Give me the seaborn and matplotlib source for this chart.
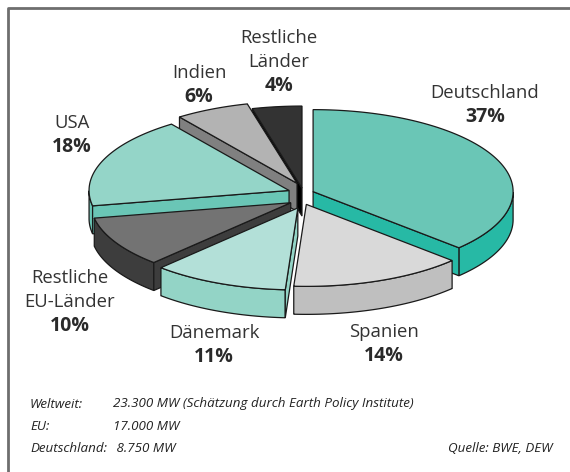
import numpy as np
import matplotlib
matplotlib.use("Agg")
import matplotlib.pyplot as plt
import seaborn as sns

# Data (share of installed wind power, %)
countries = ["Deutschland", "Spanien", "Dänemark", "Restliche\nEU-Länder", "USA", "Indien", "Restliche\nLänder"]
shares = [37, 14, 11, 10, 18, 6, 4]
top_colors = ["#6ac6b6", "#d9d9d9", "#b3e0d8", "#737373", "#94d5c8", "#b3b3b3", "#333333"]
side_colors = ["#27b9a5", "#bfbfbf", "#93d4c6", "#3d3d3d", "#6ac6b6", "#808080", "#000000"]
explode = [11, 9, 13, 14, 15, 14, 8]

note_keys = ["Weltweit:", "EU:", "Deutschland:"]
note_vals = ["23.300 MW (Schätzung durch Earth Policy Institute)", "17.000 MW", " 8.750 MW"]
source = "Quelle: BWE, DEW"

sns.set_theme(style="white")
plt.rcParams["font.family"] = ["Open Sans", "DejaVu Sans"]

fig = plt.figure(figsize=(5.7, 4.72), dpi=100)
ax = fig.add_axes([0, 0, 1, 1])
ax.set_xlim(0, 570)
ax.set_ylim(472, 0)
ax.axis("off")

# frame (left and top only visible)
ax.plot([7.5, 7.5, 570], [480, 7.5, 7.5], color="#6e6e6e", lw=2, solid_capstyle="butt")

# pie geometry (pixel space)
cx, cy = 303, 196
rx, ry = 200, 82
depth = 28

vals = np.array(shares, dtype=float)
ends = 90 - np.cumsum(vals) / vals.sum() * 360
starts = np.r_[90, ends[:-1]]


def pt(P, t, dz=0.0):
    t = np.radians(t)
    return P[0] + rx * np.cos(t), P[1] - ry * np.sin(t) + dz


slices = []
for i, v in enumerate(vals):
    a1, a2 = ends[i], starts[i]          # ccw order a1 < a2
    m = np.radians((a1 + a2) / 2)
    P = (cx + explode[i] * np.cos(m), cy - explode[i] * np.sin(m))
    slices.append((np.sin(m), i, a1, a2, P))

# back to front
slices.sort(key=lambda s: -s[0])
z = 2
for _, i, a1, a2, P in slices:
    ec = "#1a1a1a"
    # outer side (front half only)
    t = np.linspace(a1, a2, 300)
    vis = t[np.sin(np.radians(t)) <= 0]
    if len(vis) > 1:
        xt, yt = pt(P, vis)
        xb, yb = pt(P, vis[::-1], depth)
        ax.fill(np.r_[xt, xb], np.r_[yt, yb], color=side_colors[i], ec=ec, lw=0.9, zorder=z)
    # radial cut faces
    for a, show in ((a1, np.cos(np.radians(a1)) > 0), (a2, np.cos(np.radians(a2)) < 0)):
        if show:
            ox, oy = pt(P, a)
            ax.fill([P[0], ox, ox, P[0]], [P[1], oy, oy + depth, P[1] + depth],
                    color=side_colors[i], ec=ec, lw=0.9, zorder=z)
    # top face
    xt, yt = pt(P, np.linspace(a1, a2, 300))
    ax.fill(np.r_[P[0], xt], np.r_[P[1], yt], color=top_colors[i], ec=ec, lw=0.9, zorder=z + 1)
    z += 2

# labels
label_pos = [(485, 93), (384, 332), (214, 333), (70, 278), (72, 123), (199, 73), (279, 38)]
for i, (x, y) in enumerate(label_pos):
    lines = countries[i].split("\n")
    for j, line in enumerate(lines):
        ax.text(x, y + j * 24, line, ha="center", va="center", fontsize=13.3, color="#333333")
    ax.text(x, y + len(lines) * 24, f"{shares[i]}%", ha="center", va="center",
            fontsize=14, fontweight="bold", color="#2a2a2a")

for k, (key, val) in enumerate(zip(note_keys, note_vals)):
    y = 404 + k * 22
    ax.text(30, y, key, fontsize=9.6, style="italic", va="center", color="#222222")
    ax.text(113, y, val, fontsize=9.6, style="italic", va="center", color="#222222")
ax.text(552, 448, source, fontsize=9.6, style="italic", va="center", ha="right", color="#222222")

fig.savefig("out.png", dpi=100)
